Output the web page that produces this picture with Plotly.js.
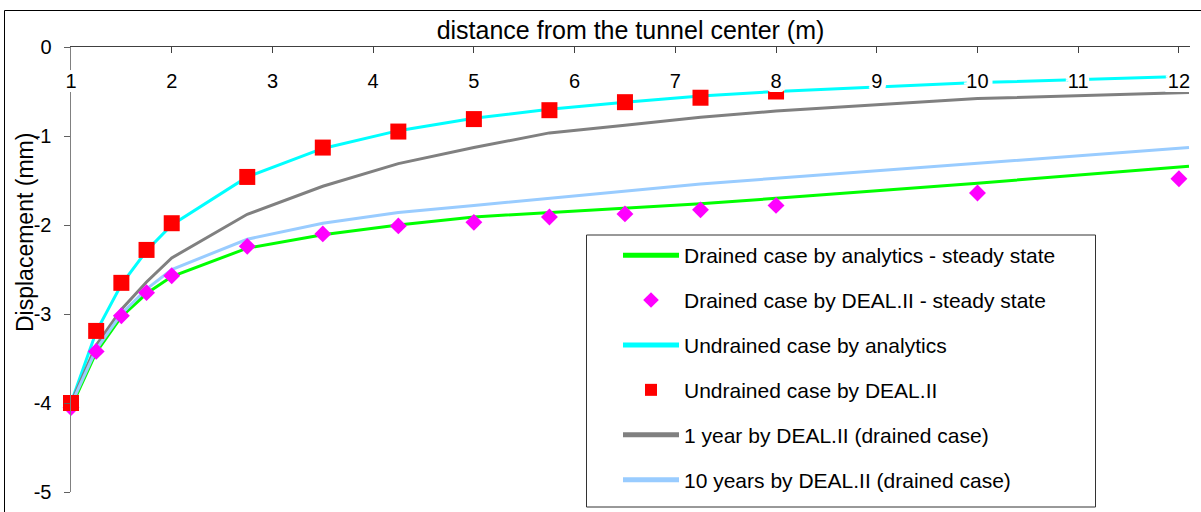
<!DOCTYPE html>
<html>
<head>
<meta charset="utf-8">
<script src="https://cdn.plot.ly/plotly-3.0.1.min.js"></script>
<style>
  html, body { margin: 0; padding: 0; background: #fff; }
  #chart { width: 1201px; height: 512px; }
</style>
</head>
<body>
<div id="chart"></div>
<script>
// Radial distance nodes (m) used by the continuous curves
const lineDist = [1, 1.25, 1.5, 1.75, 2, 2.75, 3.5, 4.25, 5, 5.75, 6.5, 7.25, 8, 10, 12.1];
// Nodes where the DEAL.II results are marked
const drainedDealDist = [1, 1.25, 1.5, 1.75, 2, 2.75, 3.5, 4.25, 5, 5.75, 6.5, 7.25, 8, 10, 12];
const undrainedDealDist = [1, 1.25, 1.5, 1.75, 2, 2.75, 3.5, 4.25, 5, 5.75, 6.5, 7.25, 8];

// Displacements (mm)
const drainedAnalytic   = [-4.05, -3.43, -3.03, -2.77, -2.58, -2.26, -2.11, -2.00, -1.91, -1.86, -1.81, -1.76, -1.70, -1.53, -1.34];
const drainedDeal       = [-4.05, -3.42, -3.02, -2.76, -2.57, -2.24, -2.10, -2.01, -1.97, -1.91, -1.875, -1.83, -1.78, -1.64, -1.48];
const undrainedAnalytic = [-4.00, -3.20, -2.67, -2.29, -2.00, -1.46, -1.14, -0.94, -0.80, -0.70, -0.62, -0.55, -0.50, -0.40, -0.33];
const undrainedDeal     = [-4.00, -3.19, -2.65, -2.28, -1.98, -1.46, -1.13, -0.95, -0.81, -0.71, -0.62, -0.57, -0.50];
const oneYearDeal       = [-4.00, -3.35, -2.95, -2.64, -2.37, -1.88, -1.565, -1.31, -1.13, -0.965, -0.88, -0.79, -0.72, -0.58, -0.51];
const tenYearsDeal      = [-4.02, -3.40, -3.00, -2.72, -2.50, -2.16, -1.98, -1.86, -1.78, -1.70, -1.62, -1.54, -1.475, -1.31, -1.13];

// Axis ticks
const xTickVals = [1, 2, 3, 4, 5, 6, 7, 8, 9, 10, 11, 12];
const xTickText = ['1', '2', '3', '4', '5', '6', '7', '8', '9', '10', '11', '12'];
const yTickVals = [0, -1, -2, -3, -4, -5];
const yTickText = ['0', '-1', '-2', '-3', '-4', '-5'];

// Series names
const seriesNames = [
  'Drained case by analytics - steady state',
  'Drained case by DEAL.II - steady state',
  'Undrained case by analytics',
  'Undrained case by DEAL.II',
  '1 year by DEAL.II (drained case)',
  '10 years by DEAL.II (drained case)'
];

const FONT = '"Liberation Sans", Arial, Helvetica, sans-serif';

// white halo behind the distance labels so curves passing under them are masked
const halo = (function () {
  const parts = [];
  for (let dx = -4; dx <= 4; dx += 2) {
    for (let dy = -4; dy <= 4; dy += 2) {
      if (dx || dy) parts.push('#ffffff ' + dx + 'px ' + dy + 'px 0px');
    }
  }
  return parts.join(', ');
})();

const lineTrace = (x, y, name, color, rank) => ({
  type: 'scatter', mode: 'lines', x: x, y: y, name: name,
  line: { color: color, width: 3 },
  legendgroup: 'g' + rank, legendrank: rank, hoverinfo: 'x+y'
});
const markerTrace = (x, y, name, color, symbol, size, rank) => ({
  type: 'scatter', mode: 'markers', x: x, y: y, name: name,
  marker: { color: color, symbol: symbol, size: size, line: { width: 0 } },
  cliponaxis: false,
  legendgroup: 'g' + rank, legendrank: rank, hoverinfo: 'x+y'
});

// drawing order: curves first, then markers on top
const data = [
  lineTrace(lineDist, drainedAnalytic, seriesNames[0], '#00ff00', 1),
  lineTrace(lineDist, undrainedAnalytic, seriesNames[2], '#00ffff', 3),
  lineTrace(lineDist, oneYearDeal, seriesNames[4], '#808080', 5),
  lineTrace(lineDist, tenYearsDeal, seriesNames[5], '#99ccff', 6),
  markerTrace(drainedDealDist, drainedDeal, seriesNames[1], '#ff00ff', 'diamond', 13, 2),
  markerTrace(undrainedDealDist, undrainedDeal, seriesNames[3], '#ff0000', 'square', 16, 4)
];

// plot area geometry in pixels (used to place paper-referenced frames)
const W = 1201, H = 512;
const M = { l: 71, r: 11, t: 47, b: 20 };
const pw = W - M.l - M.r, ph = H - M.t - M.b;
const px = (x) => (x - M.l) / pw;
const py = (y) => (H - M.b - y) / ph;

const layout = {
  width: W, height: H,
  margin: { l: M.l, r: M.r, t: M.t, b: M.b, pad: 0, autoexpand: false },
  paper_bgcolor: '#ffffff',
  plot_bgcolor: 'rgba(0,0,0,0)',
  font: { family: FONT, color: '#000000', size: 20 },
  showlegend: true,
  xaxis: {
    range: [1, 12.11], automargin: false,
    side: 'top', anchor: 'y',
    tickmode: 'array', tickvals: xTickVals, ticktext: xTickText,
    ticks: 'inside', ticklen: 6, tickwidth: 1, tickcolor: '#404040',
    ticklabelposition: 'outside', ticklabelstandoff: -50,
    tickfont: { family: FONT, size: 20, color: '#000000', shadow: halo },
    showline: true, linecolor: '#404040', linewidth: 1,
    showgrid: false, zeroline: false,
    title: { text: 'distance from the tunnel center (m)', font: { family: FONT, size: 25, color: '#000000' }, standoff: 23 }
  },
  yaxis: {
    range: [-5, 0], automargin: false,
    tickmode: 'array', tickvals: yTickVals, ticktext: yTickText,
    ticks: 'outside', ticklen: 6, tickwidth: 1, tickcolor: '#606060',
    ticklabelstandoff: 8,
    tickfont: { family: FONT, size: 20, color: '#000000' },
    showline: true, linecolor: '#808080', linewidth: 1.5,
    showgrid: false, zeroline: false
  },
  legend: {
    x: px(618), y: py(235), xanchor: 'left', yanchor: 'top',
    bgcolor: 'rgba(0,0,0,0)', borderwidth: 0,
    font: { family: FONT, size: 21, color: '#000000' },
    traceorder: 'grouped', tracegroupgap: 14.6,
    itemwidth: 56, itemsizing: 'constant'
  },
  annotations: [{
    text: 'Displacement (mm)', textangle: -90,
    xref: 'paper', yref: 'paper', x: px(25), y: py(233),
    xanchor: 'center', yanchor: 'middle', showarrow: false,
    font: { family: FONT, size: 23, color: '#000000' }
  }],
  shapes: [
    // outer chart frame
    { type: 'rect', xref: 'paper', yref: 'paper', layer: 'below',
      x0: px(4.5), x1: px(1215), y0: py(525), y1: py(10.5),
      line: { color: '#000000', width: 1 }, fillcolor: 'rgba(0,0,0,0)' },
    // legend box
    { type: 'rect', xref: 'paper', yref: 'paper', layer: 'below',
      x0: px(586.5), x1: px(1095.5), y0: py(507), y1: py(235),
      line: { color: '#333333', width: 1 }, fillcolor: '#ffffff' }
  ]
};

Plotly.newPlot('chart', data, layout, { displayModeBar: false, staticPlot: true });
</script>
</body>
</html>
